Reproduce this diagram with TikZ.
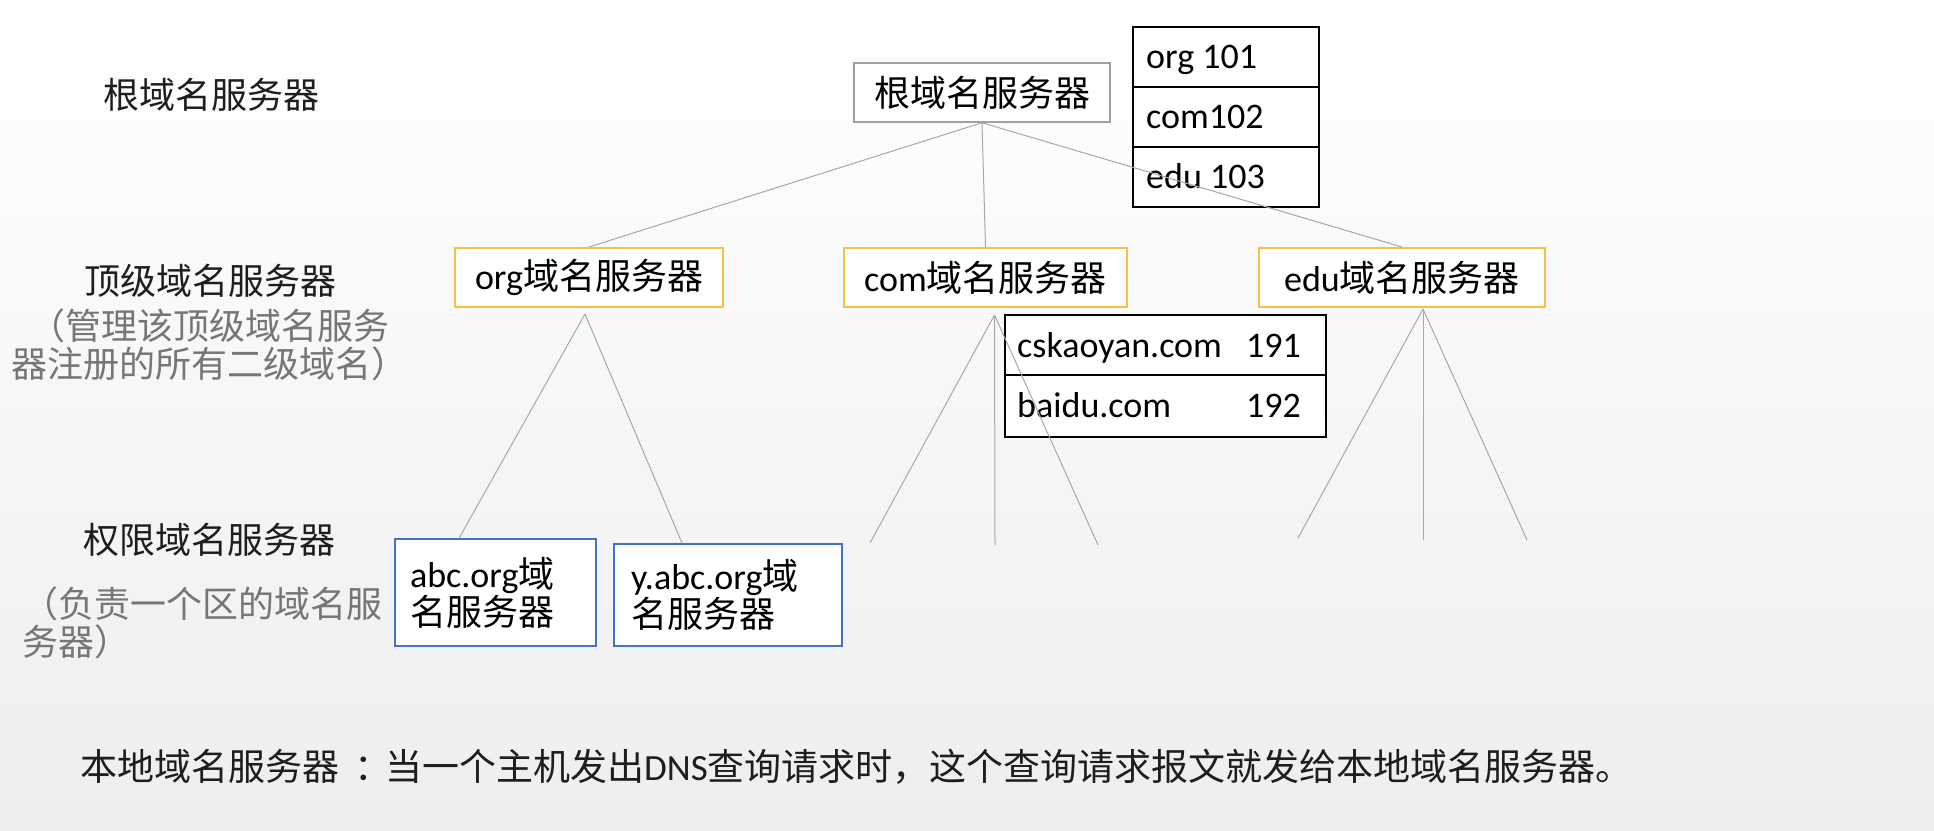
\documentclass[tikz,border=0pt]{standalone}
\usepackage{fontspec}
\setmainfont{Carlito}
\newfontfamily\cjk{Noto Sans CJK SC}
\newcommand\zhtxt[1]{{\cjk #1}}
\usetikzlibrary{calc}
\definecolor{goldline}{RGB}{246,192,66}
\definecolor{blueline}{RGB}{68,114,196}
\definecolor{linkgray}{RGB}{168,168,168}
\definecolor{rootgray}{RGB}{160,160,160}
\definecolor{subgray}{RGB}{118,118,118}
\definecolor{labelblack}{RGB}{30,30,30}
\definecolor{bgbottom}{RGB}{238,238,238}
\tikzset{
  big/.style={font=\fontsize{36}{38}\selectfont},
  lbl/.style={big, text=labelblack, inner sep=0},
  sublbl/.style={big, text=subgray, inner sep=0},
  rootbox/.style={big, draw=rootgray, line width=1.5pt, fill=white, minimum width=256pt, minimum height=59pt, inner sep=0},
  tldbox/.style={big, draw=goldline, line width=2pt, fill=white, minimum height=59pt, inner sep=0},
  authbox/.style={big, draw=blueline, line width=1.5pt, fill=white, align=left, inner ysep=0},
  cell/.style={draw=black, line width=2pt, fill=white, inner sep=0},
  celltxt/.style={big, anchor=base west, inner sep=0},
  link/.style={draw=linkgray, line width=1pt},
}
\begin{document}
\begin{tikzpicture}[x=1pt,y=-1pt]
\shade[top color=white, bottom color=bgbottom] (0,0) rectangle (1934,830);
\useasboundingbox (0,0) rectangle (1934,830);

% left labels
\node[lbl] (lroot) at (211,95) {\zhtxt{根域名服务器}};
\node[lbl] (ltld) at (210,281) {\zhtxt{顶级域名服务器}};
\node[sublbl, align=center] (ltldsub) at (209,345) {\zhtxt{（管理该顶级域名服务}\\\zhtxt{器注册的所有二级域名）}};
\node[lbl] (lauth) at (209,540) {\zhtxt{权限域名服务器}};
\node[sublbl, align=left, anchor=north west] (lauthsub) at (22,586) {\zhtxt{（负责一个区的域名服}\\\zhtxt{务器）}};

% root server and its table
\node[rootbox] (root) at (982,92.5) {\zhtxt{根域名服务器}};
\node[cell, minimum width=186pt, minimum height=60pt] (r1) at (1226,57) {};
\node[cell, minimum width=186pt, minimum height=60pt] (r2) at (1226,117) {};
\node[cell, minimum width=186pt, minimum height=60pt] (r3) at (1226,177) {};
\node[celltxt] (r1t) at ($(r1.west)+(14,11)$) {org 101};
\node[celltxt] (r2t) at ($(r2.west)+(14,11)$) {com102};
\node[celltxt] (r3t) at ($(r3.west)+(14,11)$) {edu 103};

% top level servers
\node[tldbox, minimum width=268pt] (org) at (589,277.5) {org\zhtxt{域名服务器}};
\node[tldbox, minimum width=283pt] (com) at (985.5,277.5) {com\zhtxt{域名服务器}};
\node[tldbox, minimum width=286pt] (edu) at (1402,277.5) {edu\zhtxt{域名服务器}};

% com table
\node[cell, minimum width=321pt, minimum height=60pt] (c1) at (1165.5,345) {};
\node[cell, minimum width=321pt, minimum height=62pt] (c2) at (1165.5,406) {};
\node[celltxt] (c1a) at ($(c1.west)+(13,12)$) {cskaoyan.com};
\node[celltxt] (c1b) at ($(c1.west)+(242,12)$) {191};
\node[celltxt] (c2a) at ($(c2.west)+(13,11)$) {baidu.com};
\node[celltxt] (c2b) at ($(c2.west)+(242,11)$) {192};

% authoritative servers
\node[authbox, text width=171pt, inner xsep=15pt, minimum height=107pt] (abc) at (495.5,592.5) {abc.org\zhtxt{域}\\\zhtxt{名服务器}};
\node[authbox, text width=194pt, inner xsep=17pt, minimum height=102pt] (yabc) at (728,595) {y.abc.org\zhtxt{域}\\\zhtxt{名服务器}};

% bottom sentence
\node[lbl, font=\fontsize{37}{40}\selectfont, anchor=west] (local) at (80,767) {\zhtxt{本地域名服务器\hspace{15pt}：\hspace{-6pt}当一个主机发出}DNS\zhtxt{查询请求时，这个查询请求报文就发给本地域名服务器。}};

% connectors
\draw[link] (root.south) -- (org.north);
\draw[link] (root.south) -- (com.north);
\draw[link] (root.south) -- (edu.north);
\coordinate (orgfan) at ($(org.south)+(-4,6)$);
\draw[link] (orgfan) -- ($(abc.north west)!0.32!(abc.north east)$);
\draw[link] (orgfan) -- ($(yabc.north west)!0.30!(yabc.north east)$);
\coordinate (comfan) at ($(com.south)+(9,7)$);
\coordinate (ce1) at (870,543);
\coordinate (ce2) at (995,545);
\coordinate (ce3) at (1098,545);
\draw[link] (comfan) -- (ce1);
\draw[link] (comfan) -- (ce2);
\draw[link] (comfan) -- (ce3);
\coordinate (edufan) at ($(edu.south)+(21,1)$);
\coordinate (ee1) at (1298,538);
\coordinate (ee2) at (1423,540);
\coordinate (ee3) at (1527,540);
\draw[link] (edufan) -- (ee1);
\draw[link] (edufan) -- (ee2);
\draw[link] (edufan) -- (ee3);
\end{tikzpicture}
\end{document}
